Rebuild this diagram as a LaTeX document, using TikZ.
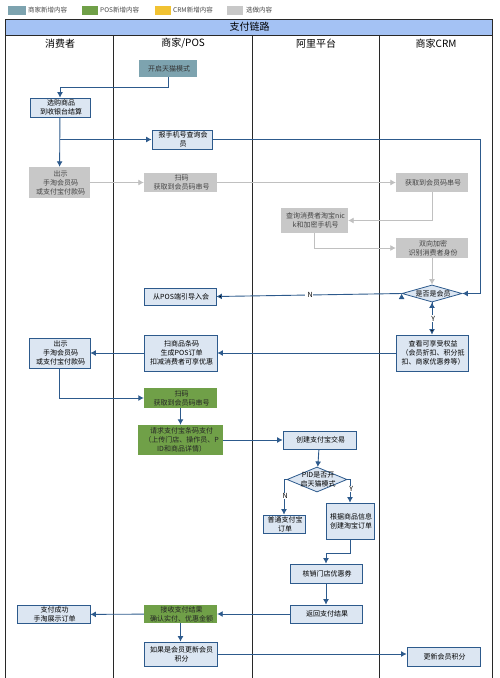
\documentclass[tikz,border=0pt]{standalone}
\usepackage{fontspec}
\setmainfont{Noto Sans CJK SC}
\usepackage{tikz}
\usetikzlibrary{shapes.geometric, arrows.meta}
\definecolor{edge_blue}		{RGB}{45,90,140}
\definecolor{box_blue}		{RGB}{220,230,242}
\definecolor{box_gray}		{RGB}{200,200,200}
\definecolor{line_gray}		{RGB}{192,192,192}
\definecolor{text_gray}		{RGB}{70,70,70}
\definecolor{box_teal}		{RGB}{125,163,175}
\definecolor{box_green}		{RGB}{112,160,72}
\definecolor{box_yellow}	{RGB}{241,194,50}
\definecolor{band_blue}		{RGB}{164,194,244}
\definecolor{frame_dark}	{RGB}{40,40,40}
\newcommand{\flowfont}	{ \fontsize{7}{9}\selectfont }
\newcommand{\lanefont}	{ \fontsize{10}{12}\selectfont }

\begin{document}
\begin{tikzpicture}[x=1pt, y=-1pt,
		boxB/.style   = {draw = edge_blue,
			rectangle,
			align          = center,
			fill           = box_blue,
			font           = \flowfont,
			line width     = 0.8pt,
			inner sep      = 1pt,
			minimum width  = 73pt,
			minimum height = 19pt},
		boxG/.style   = {rectangle,
			align          = center,
			fill           = box_gray,
			font           = \flowfont \color{text_gray},
			inner sep      = 1pt,
			minimum width  = 73pt,
			minimum height = 19pt},
		boxT/.style   = {boxG, fill = box_teal, font = \flowfont \color{black!80}},
		boxP/.style   = {boxG, fill = box_green, font = \flowfont \color{black!85}},
		decB/.style   = {draw = edge_blue,
			diamond,
			align          = center,
			fill           = box_blue,
			font           = \flowfont,
			line width     = 0.8pt,
			inner sep      = 0pt,
			aspect         = 3.5},
		arrB/.style   = {-{Latex[length=5.5pt, width=6pt]}, draw = edge_blue, line width = 0.9pt},
		arrG/.style   = {-{Latex[length=5.5pt, width=6pt]}, draw = line_gray, line width = 0.8pt},
		yn/.style     = {fill = white, inner sep = 0.5pt, font = \flowfont},
		legTxt/.style = {anchor = west, inner sep = 0pt, font = \fontsize{6.5}{8}\selectfont \color{text_gray}},
		frame/.style  = {draw = frame_dark, line width = 0.9pt}]
	
	\useasboundingbox (0,0) rectangle (500,678);
	
	% legend
	\fill[box_teal]   (8,6)   rectangle (26,15);
	\node[legTxt] (legA) at (28,10.5)  {商家新增内容};
	\fill[box_green]  (82,6)  rectangle (98,15);
	\node[legTxt] (legB) at (100,10.5) {POS新增内容};
	\fill[box_yellow] (155,6) rectangle (171,15);
	\node[legTxt] (legC) at (173,10.5) {CRM新增内容};
	\fill[box_gray]   (227,6) rectangle (243,15);
	\node[legTxt] (legD) at (246,10.5) {选做内容};
	
	% swimlanes
	\fill[band_blue] (5,19) rectangle (492,35);
	\draw[frame] (5,678) -- (5,19) -- (492,19) -- (492,678);
	\draw[frame] (5,35) -- (492,35);
	\foreach \x in {113,252,379}
		\draw[frame] (\x,35) -- (\x,678);
	
	\node[font=\lanefont] (title) at (248.5,27) {支付链路};
	\node[font=\lanefont] (laneA) at (59,43.5)  {消费者};
	\node[font=\lanefont] (laneB) at (182,43.5) {商家/POS};
	\node[font=\lanefont] (laneC) at (315,43.5) {阿里平台};
	\node[font=\lanefont] (laneD) at (435,43.5) {商家CRM};
	
	\coordinate (crmR) at (480,0); % turn point right of CRM lane
	
	% member check
	\node[boxT, minimum width=58pt, minimum height=17pt] (tm) at (168,68.5) {开启天猫模式};
	\node[boxB, minimum width=60pt] (shop) at (60,107.5) {选购商品\\到收银台结算};
	\node[boxB, minimum width=60pt] (query) at (182,139.5) {报手机号查询会\\员};
	\node[boxG, minimum width=61pt, minimum height=31pt] (show1) at (59.5,182.5)
	{出示\\手淘会员码\\或支付宝付款码};
	\node[boxG] (scan1) at (180.5,182.5) {扫码\\获取到会员码串号};
	\node[boxG, minimum width=72pt] (getSn) at (432,182.5) {获取到会员码串号};
	\node[boxG, minimum width=67pt, minimum height=25pt] (nick) at (314.5,220.5)
	{查询消费者淘宝nic\\k和加密手机号};
	\node[boxG, minimum width=72pt, minimum height=20pt] (enc) at (432,248)
	{双向加密\\识别消费者身份};
	\node[decB, minimum width=60pt, minimum height=17pt] (isMem) at (432,293.5) {是否是会员};
	\node[boxB, minimum width=72pt, minimum height=17pt] (guide) at (180,296.5) {从POS端引导入会};
	\node[boxB, minimum width=72pt, minimum height=36pt] (benefit) at (432,353)
	{查看可享受权益\\（会员折扣、积分抵\\扣、商家优惠券等）};
	\node[boxB, minimum height=36pt] (order) at (180.5,353)
	{扫商品条码\\生成POS订单\\扣减消费者可享优惠};
	\node[boxB, minimum width=61pt, minimum height=30pt] (show2) at (59.5,353)
	{出示\\手淘会员码\\或支付宝付款码};
	
	% payment
	\node[boxP, minimum height=20pt] (scan2) at (180.5,398) {扫码\\获取到会员码串号};
	\node[boxP, minimum width=85pt, minimum height=30pt] (payReq) at (180.5,440)
	{请求支付宝条码支付\\（上传门店、操作员、P\\ID和商品详情）};
	\node[boxB, minimum height=18pt] (trade) at (319.5,440) {创建支付宝交易};
	\node[decB, minimum width=60pt, minimum height=25pt,
		label={[font=\flowfont, align=center]center:{PID是否开\\启天猫模式}}] (pid) at (317,479.5) {};
	\node[boxB, minimum width=42pt, minimum height=18pt] (normal) at (284,524) {普通支付宝\\订单};
	\node[boxB, minimum width=48pt, minimum height=36pt] (taobao) at (350,521)
	{根据商品信息\\创建淘宝订单};
	\node[boxB, minimum width=72pt] (verify) at (326,573.5) {核销门店优惠券};
	\node[boxB, minimum width=72pt, minimum height=18pt] (result) at (326,614) {返回支付结果};
	\node[boxP, minimum height=18pt] (recv) at (180.5,614) {接收支付结果\\确认实付、优惠金额};
	\node[boxB, minimum height=17pt] (success) at (53.5,614.5) {支付成功\\手淘展示订单};
	\node[boxB, minimum height=24pt] (upd) at (180.5,654) {如果是会员更新会员\\积分};
	\node[boxB] (updCrm) at (443.5,656.5) {更新会员积分};
	
	% connectors
	\draw[arrB] (tm.south) -- ++(0,10) -| (shop.north);
	\draw[arrB] (shop) -- (show1);
	\draw[arrB] (shop.south |- query.west) -- (query.west);
	\draw[arrB] (query.east) -- (query.east -| crmR) -- (isMem.east -| crmR) -- (isMem.east);
	
	\draw[arrG] (show1) -- (scan1);
	\draw[arrG] (scan1) -- (getSn);
	\draw[arrG] (getSn.south) |- (nick.east);
	\draw[arrG] (nick.south) |- (enc.west);
	\draw[arrG] (enc) -- (isMem);
	
	\path[arrB] (isMem.west) edge node[yn, pos=0.5] {N} (guide.east);
	\path[arrB] (isMem.south) edge node[yn] {Y} (benefit.north);
	\draw[arrB] (benefit) -- (order);
	\draw[arrB] (order) -- (show2);
	\draw[arrB] (show2.south) |- (scan2.west);
	
	\draw[arrB] (scan2) -- (payReq);
	\draw[arrB] (payReq) -- (trade);
	\draw[arrB] (trade) -- (pid);
	\draw[arrB] (pid.west) -| node[yn, pos=0.74] {N} (normal.north);
	\draw[arrB] (pid.east) -| node[yn, pos=0.71] {Y} (taobao.north);
	\draw[arrB] (taobao.south) -- ++(0,14) -| (verify.north);
	\draw[arrB] (verify) -- (result);
	\draw[arrB] (result) -- (recv);
	\draw[arrB] (recv) -- (success);
	\draw[arrB] (recv) -- (upd);
	\draw[arrB] (upd.east) -- (upd.east -| updCrm.west);
	
\end{tikzpicture}
\end{document}
